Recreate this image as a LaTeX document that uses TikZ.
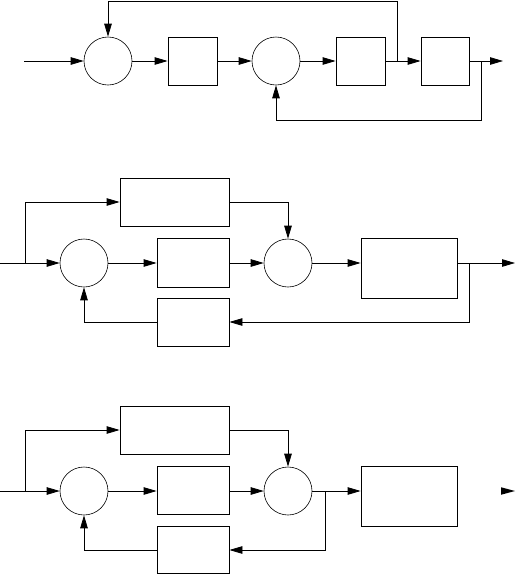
\documentclass[tikz,border=0pt]{standalone}
\usetikzlibrary{arrows.meta}
\begin{document}
\begin{tikzpicture}[x=1pt,y=-1pt,
  line width=0.8pt,
  arr/.style={-{Triangle[length=13pt,width=7.5pt]}},
  sumnode/.style={circle,draw,line width=0.6pt,minimum size=48pt,inner sep=0pt},
  blk/.style={rectangle,draw,inner sep=0pt,minimum width=#1},
  blk/.default=49pt]
\useasboundingbox (0,0) rectangle (518,574);

% ---------- Diagram 1 ----------
\coordinate (in1) at (24,61);
\node[sumnode] (c1) at (108,61) {};
\node[blk=49pt,minimum height=48pt] (b1) at (192.5,61) {};
\node[sumnode] (c2) at (276,61) {};
\node[blk=49pt,minimum height=48pt] (b2) at (360.5,61) {};
\node[blk=48pt,minimum height=48pt] (b3) at (445,61) {};
\coordinate (j1) at (397,61);
\coordinate (t1) at (397,1);
\coordinate (j2) at (481,61);
\coordinate (u1) at (481,120);
\coordinate (out1) at (503,61);

\draw[arr] (in1) -- (c1);
\draw[arr] (c1) -- (b1);
\draw[arr] (b1) -- (c2);
\draw[arr] (c2) -- (b2);
\draw[arr] (b2) -- (b3);
\draw[arr] (b3) -- (out1);
\draw[arr] (j1) -- (t1) -| (c1.north);
\draw[arr] (j2) -- (u1) -| (c2.south);

% ---------- Diagram 2 ----------
\coordinate (in2) at (0,263);
\coordinate (j3) at (25,263);
\node[blk=109pt,minimum height=48pt] (t2) at (174.5,202) {};
\node[sumnode] (c3) at (84,263) {};
\node[blk=72pt,minimum height=49pt] (m2) at (193,263) {};
\node[sumnode] (c4) at (288,263) {};
\node[blk=96pt,minimum height=60pt] (B2) at (409,268) {};
\node[blk=72pt,minimum height=48pt] (f2) at (193,322) {};
\coordinate (j4) at (469,263);
\coordinate (out2) at (515,263);

\draw[arr] (in2) -- (c3);
\draw[arr] (j3) |- (t2.west);
\draw[arr] (t2.east) -| (c4.north);
\draw[arr] (c3) -- (m2);
\draw[arr] (m2) -- (c4);
\draw[arr] (c4) -- (c4 -| B2.west);
\draw[arr] (c4 -| B2.east) -- (out2);
\draw[arr] (j4) |- (f2.east);
\draw[arr] (f2.west) -| (c3.south);

% ---------- Diagram 3 ----------
\coordinate (in3) at (0,491);
\coordinate (j5) at (25,491);
\node[blk=109pt,minimum height=48pt] (t3) at (174.5,430) {};
\node[sumnode] (c5) at (84,491) {};
\node[blk=72pt,minimum height=48pt] (m3) at (193,490) {};
\node[sumnode] (c6) at (288,491) {};
\node[blk=96pt,minimum height=60pt] (B3) at (409,496) {};
\node[blk=72pt,minimum height=47pt] (f3) at (193,550) {};
\coordinate (j6) at (325,491);

\draw[arr] (in3) -- (c5);
\draw[arr] (j5) |- (t3.west);
\draw[arr] (t3.east) -| (c6.north);
\draw[arr] (c5) -- (c5 -| m3.west);
\draw[arr] (c5 -| m3.east) -- (c6);
\draw[arr] (c6) -- (c6 -| B3.west);
\draw[arr] (j6) |- (f3.east);
\draw[arr] (f3.west) -| (c5.south);
\fill (501,487.25) -- (515,491) -- (501,494.75) -- cycle;
\end{tikzpicture}
\end{document}
